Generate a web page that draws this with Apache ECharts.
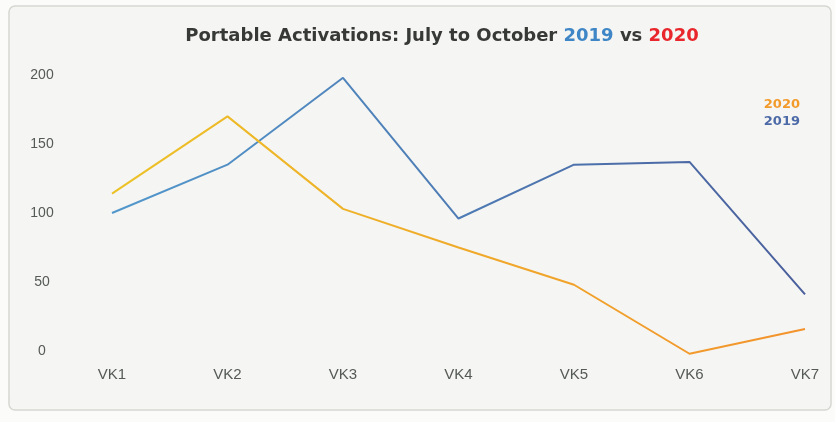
<!DOCTYPE html>
<html>
<head>
<meta charset="utf-8">
<script src="https://cdn.jsdelivr.net/npm/echarts@6/dist/echarts.min.js"></script>
<style>
  html, body { margin: 0; padding: 0; background: #fbfbfa; }
  #chart { width: 835px; height: 422px; }
</style>
</head>
<body>
<div id="chart"></div>
<script>
// weeks on the x axis
const weeks = ['VK1', 'VK2', 'VK3', 'VK4', 'VK5', 'VK6', 'VK7'];
// activations per week
const acts2019 = [100, 135, 198, 96, 135, 137, 41];
const acts2020 = [114, 170, 103, 75, 48, -2, 16];
const yTicks = [0, 50, 100, 150, 200];

const chart = echarts.init(document.getElementById('chart'));

const option = {
  backgroundColor: 'transparent',
  animation: false,
  title: {
    text: 'Portable Activations: July to October {a|2019} vs {b|2020}',
    left: 437,
    textAlign: 'center',
    top: 22,
    textStyle: {
      fontFamily: 'DejaVu Sans',
      fontSize: 18,
      fontWeight: 'bold',
      color: '#363936',
      rich: {
        a: { fontFamily: 'DejaVu Sans', fontSize: 18, fontWeight: 'bold', color: '#3f86c6' },
        b: { fontFamily: 'DejaVu Sans', fontSize: 18, fontWeight: 'bold', color: '#e8262b' }
      }
    }
  },
  legend: {
    orient: 'vertical',
    right: 30,
    top: 93,
    itemGap: 4,
    itemWidth: 0,
    itemHeight: 0,
    selectedMode: false,
    textStyle: { fontFamily: 'DejaVu Sans', fontSize: 13, fontWeight: 'bold' },
    data: [
      { name: '2020', icon: 'none', textStyle: { color: '#f29a2a' } },
      { name: '2019', icon: 'none', textStyle: { color: '#4d6aa8' } }
    ]
  },
  grid: { left: 112, right: 30, top: 75, bottom: 71 },
  xAxis: {
    type: 'category',
    boundaryGap: false,
    data: weeks,
    axisLine: { show: false },
    axisTick: { show: false },
    axisLabel: {
      margin: 16,
      fontFamily: 'Liberation Sans',
      fontSize: 15,
      color: '#555a55'
    }
  },
  yAxis: {
    type: 'value',
    min: yTicks[0],
    max: yTicks[yTicks.length - 1],
    interval: 50,
    splitLine: { show: false },
    axisLine: { show: false },
    axisTick: { show: false },
    axisLabel: {
      margin: 70,
      align: 'center',
      fontFamily: 'Liberation Sans',
      fontSize: 14,
      color: '#555a55'
    }
  },
  series: [
    {
      name: '2019',
      type: 'line',
      data: acts2019,
      symbol: 'none',
      clip: false,
      lineStyle: {
        width: 2,
        color: new echarts.graphic.LinearGradient(0, 0, 1, 0, [
          { offset: 0, color: '#5298cc' },
          { offset: 1, color: '#4a5f9c' }
        ])
      },
      itemStyle: { color: '#4d6aa8' }
    },
    {
      name: '2020',
      type: 'line',
      data: acts2020,
      symbol: 'none',
      clip: false,
      lineStyle: {
        width: 2,
        color: new echarts.graphic.LinearGradient(0, 0, 1, 0, [
          { offset: 0, color: '#ecc226' },
          { offset: 1, color: '#f3922c' }
        ])
      },
      itemStyle: { color: '#f29a2a' }
    }
  ],
  graphic: [
    {
      type: 'rect',
      z: -10,
      shape: { x: 9, y: 6, width: 822, height: 404, r: 6 },
      style: { fill: '#f5f5f3', stroke: '#d6d6d2', lineWidth: 1.5 }
    }
  ]
};

chart.setOption(option);
</script>
</body>
</html>
